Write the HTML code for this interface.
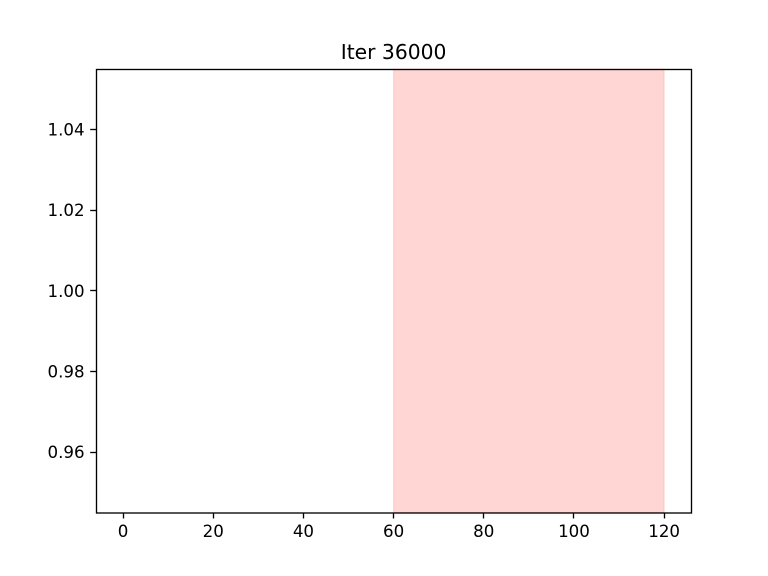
<!DOCTYPE html>
<html lang="en">
<head>
<meta charset="utf-8">
<title>Iter 36000</title>
<style>
html,body{margin:0;padding:0;background:#fff;}
body{width:768px;height:576px;overflow:hidden;}
svg{display:block;}
text{font-family:"DejaVu Sans",sans-serif;fill:#000;}
</style>
</head>
<body>
<svg id="chart" xmlns="http://www.w3.org/2000/svg" width="768" height="576" viewBox="0 0 768 576">
  <rect x="0" y="0" width="768" height="576" fill="#ffffff"/>
</svg>
<script>
const chartTitle = 'Iter 36000';
const xTicks = [0, 20, 40, 60, 80, 100, 120];
const yTicks = [0.96, 0.98, 1.00, 1.02, 1.04];
const xDomain = [-6, 126];
const yDomain = [0.945, 1.055];
const spanStart = [60];
const spanEnd = [120];

const plotLeft = 96, plotRight = 691.2, plotTop = 69.12, plotBottom = 512.64;
const tickLength = 5.83;
const svgNS = 'http://www.w3.org/2000/svg';
const svg = document.getElementById('chart');

function xScale(v) {
  return plotLeft + (v - xDomain[0]) / (xDomain[1] - xDomain[0]) * (plotRight - plotLeft);
}
function yScale(v) {
  return plotBottom - (v - yDomain[0]) / (yDomain[1] - yDomain[0]) * (plotBottom - plotTop);
}
function make(tag, attrs) {
  const el = document.createElementNS(svgNS, tag);
  for (const k in attrs) el.setAttribute(k, attrs[k]);
  svg.appendChild(el);
  return el;
}

spanStart.forEach(function (s, i) {
  const x0 = xScale(s), x1 = xScale(spanEnd[i]);
  const span = make('rect', {x: x0, y: plotTop, width: x1 - x0, height: plotBottom - plotTop,
    fill: '#ffd6d4', stroke: 'rgb(255,0,0)', 'stroke-opacity': 0.1, 'stroke-width': 1.33});
  
  
});

xTicks.forEach(function (t) {
  const x = Math.round(xScale(t) - 0.5) + 0.5;
  const tick = make('line', {x1: x, x2: x, y1: plotBottom, y2: plotBottom + tickLength, stroke: '#000', 'stroke-width': 1.33});
  
  
  const label = make('text', {x: xScale(t), y: 537, 'text-anchor': 'middle', 'font-size': 16.67});
  label.textContent = String(t);
  
  
});

yTicks.forEach(function (t) {
  const y = Math.round(yScale(t) - 0.5) + 0.5;
  const tick = make('line', {x1: plotLeft - tickLength, x2: plotLeft, y1: y, y2: y, stroke: '#000', 'stroke-width': 1.33});
  
  
  const label = make('text', {x: plotLeft - 11.4, y: yScale(t) + 6, 'text-anchor': 'end', 'font-size': 16.67});
  label.textContent = t.toFixed(2);
  
  
});

const frame = make('rect', {x: 96.5, y: 69.5, width: 595, height: 443.5, fill: 'none', stroke: '#000', 'stroke-width': 1.33});



const titleEl = make('text', {x: (plotLeft + plotRight) / 2, y: 59, 'text-anchor': 'middle', 'font-size': 20.3});
titleEl.textContent = chartTitle;


</script>
</body>
</html>
